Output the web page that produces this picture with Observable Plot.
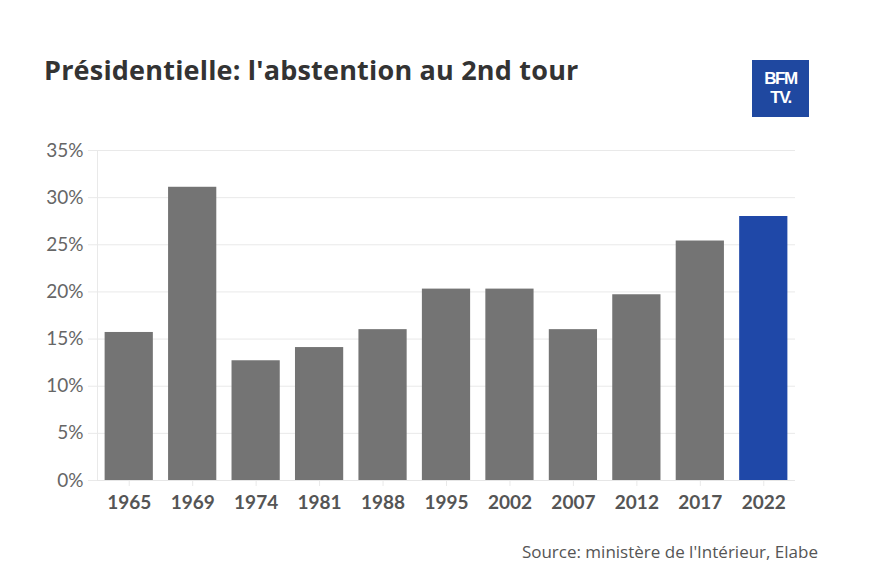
<!DOCTYPE html>
<html>
<head>
<meta charset="utf-8">
<script src="https://cdn.jsdelivr.net/npm/d3@7"></script>
<script src="https://cdn.jsdelivr.net/npm/@observablehq/plot@0.6"></script>
<style>
  html, body { margin: 0; padding: 0; background: #fff; }
  #wrap { position: relative; width: 870px; height: 578px; overflow: hidden; font-family: "Open Sans", Lato, sans-serif; }
  #title { position: absolute; left: 44px; top: 51px; font-size: 27px; font-weight: 700; color: #333; letter-spacing: 0.2px; white-space: nowrap; }
  #logo { position: absolute; left: 752px; top: 60px; width: 57px; height: 57px; background: #1f48a0; color: #fff; font-family: "Liberation Sans", Arial, sans-serif; font-weight: 700; text-align: center; font-size: 17px; letter-spacing: -1.4px; box-sizing: border-box; }
  #logo div { position: absolute; left: 0; width: 57px; line-height: 17px; }
  #chart { position: absolute; left: 0; top: 130px; }
  #source { position: absolute; right: 52px; top: 540px; font-size: 17px; color: #555; white-space: nowrap; }
</style>
</head>
<body>
<div id="wrap">
  <div id="title">Présidentielle: l'abstention au 2nd tour</div>
  <div id="logo"><div style="top:10px">BFM</div><div style="top:29px">TV.</div></div>
  <div id="chart"></div>
  <div id="source">Source: ministère de l'Intérieur, Elabe</div>
</div>
<script>
const years = ["1965","1969","1974","1981","1988","1995","2002","2007","2012","2017","2022"];
const abstention = [15.7, 31.1, 12.7, 14.1, 16.0, 20.3, 20.3, 16.0, 19.7, 25.4, 28.0];
const highlight = ["2022"];
const yTicks = [0, 5, 10, 15, 20, 25, 30, 35];

const data = years.map((y, i) => ({year: y, value: abstention[i], hi: highlight.includes(y)}));

const chart = Plot.plot({
  width: 870,
  height: 390,
  marginTop: 20,
  marginBottom: 40,
  marginLeft: 97,
  marginRight: 75,
  style: {fontFamily: "Lato, 'Open Sans', sans-serif", background: "transparent"},
  x: {domain: years, paddingInner: 0.24, paddingOuter: 0.12, round: false, label: null},
  y: {domain: [0, 35], label: null},
  marks: [
    Plot.gridY(yTicks, {stroke: "#e9e9e9", strokeOpacity: 1}),
    Plot.frame({anchor: "left", stroke: "#e9e9e9"}),
    Plot.axisY(yTicks, {tickSize: 9, tickPadding: 5, stroke: "#e9e9e9", fill: "#666", fontSize: 19, tickFormat: d => d + "%"}),
    Plot.axisX({tickSize: 6, tickPadding: 9, stroke: "#e9e9e9", fill: "#555", fontSize: 19, fontWeight: "bold"}),
    Plot.barY(data, {x: "year", y: "value", fill: d => d.hi ? "#1f48a8" : "#747474"}),
    Plot.ruleY([0], {stroke: "#e6e6e6"})
  ]
});
document.getElementById("chart").appendChild(chart);
</script>
</body>
</html>
